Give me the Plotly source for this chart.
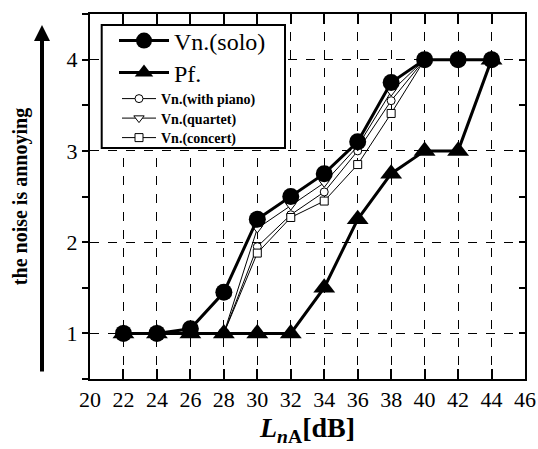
import plotly.graph_objects as go

# ---- data ----
x_all = [22, 24, 26, 28, 30, 32, 34, 36, 38, 40, 42, 44]
x_vn = [22, 24, 26, 28, 30, 32, 34, 36, 38, 40]
solo = [1, 1, 1.05, 1.45, 2.25, 2.5, 2.75, 3.1, 3.75, 4, 4, 4]
pf = [1, 1, 1, 1, 1, 1, 1.5, 2.25, 2.75, 3, 3, 4]
with_piano = [1, 1, 1, 1, 1.95, 2.3, 2.55, 3.0, 3.55, 4]
quartet = [1, 1, 1, 1, 2.15, 2.4, 2.65, 3.05, 3.65, 4]
concert = [1, 1, 1, 1, 1.88, 2.27, 2.45, 2.85, 3.41, 4]
x_ticks = list(range(20, 47, 2))
y_ticks = [1, 2, 3, 4]

FONT = "Liberation Serif"
L, R, T, B = 90, 13, 14, 70
PH = 449 - T - B  # plot height in px
PW = 538 - L - R


def py(p):
    """pixel row -> paper y"""
    return (449 - B - p) / PH


def px(p):
    return (p - L) / PW


fig = go.Figure()

thin = [
    ("Vn.(with piano)", with_piano, "circle", "legend3", 8),
    ("Vn.(quartet)", quartet, "triangle-down", "legend4", 9),
    ("Vn.(concert)", concert, "square", "legend5", 8),
]
for name, ys, sym, lg, sz in thin:
    fig.add_trace(go.Scatter(
        x=x_vn, y=ys, name=name, mode="lines+markers", legend=lg,
        line=dict(color="black", width=1),
        marker=dict(symbol=sym, size=sz, color="white",
                    line=dict(color="black", width=1)),
    ))

fig.add_trace(go.Scatter(
    x=x_all, y=solo, name="Vn.(solo)", mode="lines+markers", legend="legend",
    line=dict(color="black", width=3),
    marker=dict(symbol="circle", size=17, color="black"),
))
fig.add_trace(go.Scatter(
    x=x_all, y=pf, name="Pf.", mode="lines+markers", legend="legend2",
    line=dict(color="black", width=3),
    marker=dict(symbol="triangle-up", size=19, color="black"),
))
# empty trace to realise the right-hand mirrored axis
fig.add_trace(go.Scatter(x=[], y=[], yaxis="y2", showlegend=False))

big_leg = dict(xanchor="left", yanchor="middle",
               font=dict(size=24, family=FONT, color="black"),
               bgcolor="rgba(0,0,0,0)", borderwidth=0, itemwidth=50)
small_leg = dict(xanchor="left", yanchor="middle",
                 font=dict(size=14, family=FONT, color="black", weight="bold"),
                 bgcolor="rgba(0,0,0,0)", borderwidth=0, itemwidth=34)

fig.update_layout(
    width=538, height=449,
    margin=dict(l=L, r=R, t=T, b=B, autoexpand=False),
    paper_bgcolor="white", plot_bgcolor="white",
    font=dict(family=FONT, color="black"),
    showlegend=True,
    xaxis=dict(
        range=[20, 46], tickvals=x_ticks, ticks="inside", ticklen=10, tickwidth=1.5,
        tickcolor="black", mirror="ticks", showline=True, linecolor="black", linewidth=2,
        showgrid=True, gridcolor="black", gridwidth=1, griddash="dash",
        tickfont=dict(size=22, family=FONT), zeroline=False, automargin=False,
        title=dict(text="<b><i>L</i><sub><i>n</i>A</sub>[dB]</b>",
                   font=dict(size=28, family=FONT), standoff=2),
    ),
    yaxis=dict(
        range=[0.5, 4.5], tickvals=y_ticks, ticks="outside", ticklen=6, tickwidth=1.5,
        tickcolor="black", showline=True, linecolor="black", linewidth=2,
        showgrid=True, gridcolor="black", gridwidth=1, griddash="dash",
        minor=dict(dtick=0.5, ticks="outside", ticklen=6, tickcolor="black", tickwidth=1.5,
                   showgrid=False),
        tickfont=dict(size=22, family=FONT), zeroline=False, automargin=False,
        title=dict(text="<b>the noise is annoying</b>", font=dict(size=20, family=FONT),
                   standoff=34),
    ),
    yaxis2=dict(
        range=[0.5, 4.5], overlaying="y", side="right", tickvals=y_ticks,
        ticks="inside", ticklen=6, tickwidth=1.5, tickcolor="black", showticklabels=False,
        showline=True, linecolor="black", linewidth=2, showgrid=False, zeroline=False,
        minor=dict(dtick=0.5, ticks="inside", ticklen=6, tickcolor="black", tickwidth=1.5),
        automargin=False,
    ),
    legend=dict(x=px(114), y=py(41), **big_leg),
    legend2=dict(x=px(114), y=py(73), **big_leg),
    legend3=dict(x=px(117), y=py(99), **small_leg),
    legend4=dict(x=px(117), y=py(118.5), **small_leg),
    legend5=dict(x=px(117), y=py(138), **small_leg),
)

# legend frame
fig.add_shape(type="rect", xref="paper", yref="paper",
              x0=px(101.7), x1=px(285), y0=py(148), y1=py(25),
              line=dict(color="black", width=2), fillcolor="white", layer="above")

# upward arrow beside the y title
fig.add_annotation(xref="paper", yref="paper", x=px(42), y=py(25),
                   ax=0, ay=348, axref="pixel", ayref="pixel", text="",
                   showarrow=True, arrowhead=2, arrowsize=0.8, arrowwidth=4,
                   arrowcolor="black")

fig.write_html(
    "out.html",
    config={"displayModeBar": False},
    post_script="document.body.style.margin='0';document.body.style.padding='0';",
)
